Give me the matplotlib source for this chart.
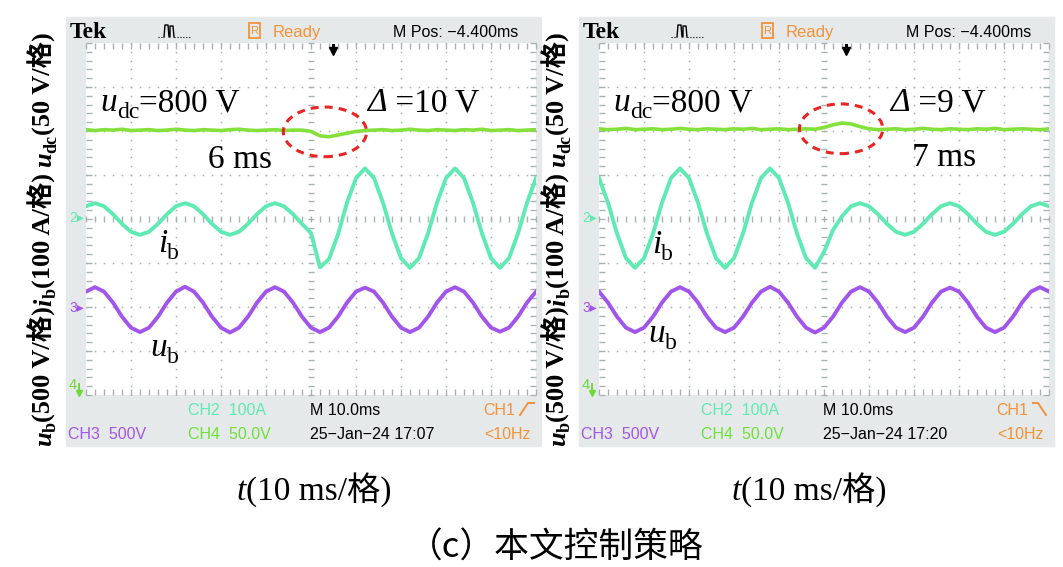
import numpy as np
import matplotlib.pyplot as plt
import matplotlib.markers as mk
from matplotlib.patches import Rectangle, Ellipse
from matplotlib.lines import Line2D

# sample times (ms, 10 ms per division, screen spans -50..50)
t_ms = np.arange(-50, 51, 2)

# traces in divisions (8 div vertical, centre = 0)
udc_left = [2.03, 2.01, 2.03, 2.02, 2.04, 2.01, 2.02, 2.03, 2.01, 2.02,
            2.04, 2.02, 2.01, 2.03, 2.02, 2.01, 2.03, 2.04, 2.02, 2.01,
            2.02, 2.03, 2.01, 2.02, 2.02, 1.99, 1.89, 1.87, 1.91, 1.95,
            1.99, 2.01, 2.02, 2.03, 2.01, 2.02, 2.04, 2.02, 2.01, 2.03,
            2.02, 2.01, 2.03, 2.02, 2.04, 2.01, 2.02, 2.03, 2.01, 2.02, 2.03]
ib_left = [0.29, 0.36, 0.29, 0.11, -0.11, -0.29, -0.36, -0.29, -0.11, 0.11,
           0.29, 0.36, 0.29, 0.11, -0.11, -0.29, -0.36, -0.29, -0.11, 0.11,
           0.29, 0.36, 0.29, 0.11, -0.11, -0.32, -1.10, -0.91, -0.35, 0.37,
           0.93, 1.15, 0.93, 0.37, -0.33, -0.89, -1.11, -0.89, -0.33, 0.37,
           0.93, 1.15, 0.93, 0.37, -0.33, -0.89, -1.11, -0.89, -0.33, 0.37, 0.93]
ub_left = [-1.65, -1.55, -1.65, -1.90, -2.22, -2.47, -2.57, -2.47, -2.22, -1.90,
           -1.65, -1.54, -1.65, -1.90, -2.22, -2.47, -2.58, -2.47, -2.22, -1.90,
           -1.65, -1.55, -1.65, -1.90, -2.22, -2.47, -2.57, -2.47, -2.22, -1.90,
           -1.65, -1.56, -1.65, -1.90, -2.22, -2.47, -2.57, -2.47, -2.22, -1.90,
           -1.65, -1.55, -1.65, -1.90, -2.22, -2.47, -2.56, -2.47, -2.22, -1.90, -1.65]

udc_right = [2.05, 2.03, 2.04, 2.06, 2.03, 2.04, 2.05, 2.03, 2.04, 2.06,
             2.04, 2.03, 2.05, 2.04, 2.03, 2.05, 2.04, 2.06, 2.03, 2.04,
             2.05, 2.03, 2.04, 2.05, 2.04, 2.08, 2.14, 2.18, 2.16, 2.10,
             2.05, 2.03, 2.04, 2.05, 2.03, 2.04, 2.06, 2.04, 2.03, 2.05,
             2.04, 2.03, 2.05, 2.04, 2.06, 2.03, 2.04, 2.05, 2.04, 2.03, 2.05]
ib_right = [0.93, 0.37, -0.33, -0.89, -1.11, -0.89, -0.33, 0.37, 0.93, 1.15,
            0.93, 0.37, -0.33, -0.89, -1.11, -0.89, -0.33, 0.37, 0.93, 1.15,
            0.93, 0.37, -0.33, -0.89, -1.11, -0.75, -0.25, 0.06, 0.29, 0.36,
            0.29, 0.11, -0.11, -0.29, -0.36, -0.29, -0.11, 0.11, 0.29, 0.36,
            0.29, 0.11, -0.11, -0.29, -0.36, -0.29, -0.11, 0.11, 0.29, 0.36, 0.29]
ub_right = [-1.65, -1.90, -2.22, -2.47, -2.57, -2.47, -2.22, -1.90, -1.65, -1.55,
            -1.65, -1.90, -2.22, -2.47, -2.57, -2.47, -2.22, -1.90, -1.65, -1.54,
            -1.65, -1.90, -2.22, -2.47, -2.58, -2.47, -2.22, -1.90, -1.65, -1.55,
            -1.65, -1.90, -2.22, -2.47, -2.57, -2.47, -2.22, -1.90, -1.65, -1.56,
            -1.65, -1.90, -2.22, -2.47, -2.57, -2.47, -2.22, -1.90, -1.65, -1.55, -1.65]

delta_text = [" =10 V", " =9 V"]
time_text = ["6 ms", "7 ms"]
clock_text = ["25\u2212Jan\u221224 17:07", "25\u2212Jan\u221224 17:20"]
caption = "（c）本文控制策略"

W, H = 1063, 567
C_UDC = '#84e03a'
C_IB = '#5feab4'
C_UB = '#a255ea'
C_OR = '#f39239'
C_GRID = '#a9b2b2'
SERIF = ['Liberation Serif', 'Noto Sans CJK SC']
SANS = ['Liberation Sans', 'DejaVu Sans']

fig = plt.figure(figsize=(W / 100, H / 100), dpi=100)
fig.patch.set_facecolor('white')
renderer = fig.canvas.get_renderer()


def ftext(x, y, s, **kw):
    return fig.text(x / W, 1 - y / H, s, **kw)


def fline(xs, ys, **kw):
    fig.add_artist(Line2D([x / W for x in xs], [1 - y / H for y in ys],
                          transform=fig.transFigure, **kw))


def rich(x0, y0, pieces, rot=False, center=False):
    # pieces: (text, size, italic, dy_px, gap_px, bold)
    objs, widths = [], []
    for s, size, it, dy, gap, bold in pieces:
        t = fig.text(0, 0, s, fontsize=size, family=SERIF, va='baseline', ha='left',
                     style='italic' if it else 'normal',
                     fontweight='bold' if bold else 'normal', zorder=5)
        widths.append(t.get_window_extent(renderer).width + gap)
        objs.append((t, dy))
    pos = -sum(widths) / 2 if center else 0
    for (t, dy), w in zip(objs, widths):
        if rot:
            t.set_position(((x0 + dy) / W, 1 - (y0 - pos) / H))
            t.set_rotation(90)
            t.set_rotation_mode('anchor')
        else:
            t.set_position(((x0 + pos) / W, 1 - (y0 + dy) / H))
        pos += w


def graticule(ax):
    ys = np.arange(-4, 4.01, 0.2)
    xs = np.arange(-50, 50.1, 2)
    for xv in range(-40, 41, 10):
        if xv != 0:
            ax.plot([xv] * len(ys), ys, ls='none', marker='s', ms=1.1,
                    color=C_GRID, mew=0)
    for yv in range(-3, 4):
        if yv != 0:
            ax.plot(xs, [yv] * len(xs), ls='none', marker='s', ms=1.1,
                    color=C_GRID, mew=0)
    kw = dict(ls='none', color=C_GRID, ms=4, mew=1.0, clip_on=False)
    ax.plot(xs, [0] * len(xs), marker='|', **kw)
    ax.plot([0] * len(ys), ys, marker='_', **kw)
    ax.plot(xs, [4] * len(xs), marker=mk.TICKDOWN, **kw)
    ax.plot(xs, [-4] * len(xs), marker=mk.TICKUP, **kw)
    ax.plot([-50] * len(ys), ys, marker=mk.TICKRIGHT, **kw)
    ax.plot([50] * len(ys), ys, marker=mk.TICKLEFT, **kw)


def panel(i, ox, udc, ib, ub, ell_c, lp):
    # scope frame
    fig.add_artist(Rectangle(((66 + ox) / W, 1 - 446 / H), 475 / W, 429 / H,
                             transform=fig.transFigure, color='#e5e9e9', zorder=0))
    ax = fig.add_axes([(86 + ox) / W, 1 - 395 / H, 450 / W, 352 / H])
    ax.set_xlim(-50, 50)
    ax.set_ylim(-4, 4)
    ax.set_facecolor('white')
    for s in ax.spines.values():
        s.set_visible(False)
    ax.set_xticks([])
    ax.set_yticks([])
    graticule(ax)

    ax.plot(t_ms, udc, color=C_UDC, lw=2.6, solid_joinstyle='round', zorder=3)
    ax.plot(t_ms, ib, color=C_IB, lw=2.8, solid_joinstyle='round', zorder=3)
    ax.plot(t_ms, ub, color=C_UB, lw=2.8, solid_joinstyle='round', zorder=3)
    ax.add_patch(Ellipse(ell_c, 18.5, 1.13, fill=False, edgecolor='#ea2424',
                         lw=2.2, ls=(0, (2.6, 2.0)), zorder=4))

    # header
    ftext(70 + ox, 38, "Tek", fontsize=17, fontweight='bold',
          family='Liberation Serif', va='baseline')
    fline([158 + ox, 164 + ox], [37, 37], color='k', lw=0.8, ls=':')
    fline([164 + ox, 165 + ox, 168 + ox, 169 + ox, 170 + ox, 170 + ox, 173 + ox, 174 + ox],
          [37, 25, 25, 37, 37, 26, 26, 37], color='k', lw=1.0)
    fline([174 + ox, 190 + ox], [37, 37], color='k', lw=0.8, ls=':')
    fig.add_artist(Rectangle(((249 + ox) / W, 1 - 38 / H), 11 / W, 15 / H, fill=False,
                             edgecolor=C_OR, lw=1.3, transform=fig.transFigure))
    ftext(254.5 + ox, 31, "R", fontsize=8, color=C_OR, family=SANS,
          ha='center', va='center')
    ftext(273 + ox, 37, "Ready", fontsize=12, color=C_OR, family=SANS, va='baseline')
    ftext(393 + ox, 37, "M Pos: \u22124.400ms", fontsize=11.5, color='k',
          family=SANS, va='baseline')
    fline([333 + ox, 333 + ox], [45, 50], color='k', lw=2.2)
    fig.add_artist(Line2D([(333 + ox) / W], [1 - 51 / H], marker='v', ms=6,
                          color='k', transform=fig.transFigure))

    # channel markers
    ftext(69 + ox, 218, "2\u25B8", fontsize=10, color=C_IB, family=SANS, va='center')
    ftext(69 + ox, 308, "3\u25B8", fontsize=10, color=C_UB, family=SANS, va='center')
    ftext(69 + ox, 385, "4", fontsize=10.5, color='#6fd93a', family=SANS, va='center')
    fline([79 + ox, 79 + ox], [384, 393], color='#6fd93a', lw=1.4)
    fig.add_artist(Line2D([(79 + ox) / W], [1 - 393 / H], marker='v', ms=4,
                          color='#6fd93a', transform=fig.transFigure))

    # footer
    sk = dict(fontsize=11.5, family=SANS, va='baseline')
    ftext(188 + ox, 415, "CH2  100A", color=C_IB, **sk)
    ftext(310 + ox, 415, "M 10.0ms", color='k', **sk)
    ftext(483 + ox, 415, "CH1", color=C_OR, **sk)
    if i == 0:
        fline([520 + ox, 528 + ox, 534 + ox], [415, 403, 403], color=C_OR, lw=1.4)
    else:
        fline([520 + ox, 525 + ox, 533 + ox], [403, 403, 415], color=C_OR, lw=1.4)
    ftext(68 + ox, 439, "CH3  500V", color=C_UB, **sk)
    ftext(188 + ox, 439, "CH4  50.0V", color='#6fe03a', **sk)
    ftext(310 + ox, 439, clock_text[i], color='k', **sk)
    ftext(484 + ox, 439, "<10Hz", color=C_OR, **sk)

    # annotations
    rich(100 + ox, 111, [("u", 24, True, 0, 0, False), ("dc", 17, False, 7, 0, False),
                         ("=800 V", 24, False, 0, 0, False)])
    rich(lp[0] + ox, 111, [("\u0394", 24, True, 0, 0, False),
                           (delta_text[i], 24, False, 0, 0, False)])
    rich(lp[1] + ox, lp[2], [(time_text[i], 24, False, 0, 0, False)])
    rich(lp[3] + ox, lp[4], [("i", 24, True, 0, 0, False), ("b", 17, False, 7, 0, False)])
    rich(lp[5] + ox, lp[6], [("u", 24, True, 0, 0, False), ("b", 17, False, 7, 0, False)])

    # axis texts
    rich(lp[7] + ox, 239, [("u", 19, True, 0, 0, True), ("b", 13, False, 5, 0, True),
                           ("(500 V/格)", 19, False, 0, 0, True),
                           ("i", 19, True, 0, 0, True), ("b", 13, False, 5, 0, True),
                           ("(100 A/格)", 19, False, 0, 6, True),
                           ("u", 19, True, 0, 0, True), ("dc", 13, False, 5, 0, True),
                           ("(50 V/格)", 19, False, 0, 0, True)], rot=True, center=True)
    rich(lp[8] + ox, 500, [("t", 24, True, 0, 0, False),
                           ("(10 ms/格)", 24, False, 0, 0, False)], center=True)


panel(0, 0, udc_left, ib_left, ub_left, (3.1, 1.98),
      (367, 208, 168, 158, 252, 150, 356, 51, 314))
panel(1, 513, udc_right, ib_right, ub_right, (3.8, 2.05),
      (377, 399, 166, 139, 253, 135, 342, 52, 296))

ftext(556, 548, caption, fontsize=25, family=['Noto Sans CJK SC', 'DejaVu Sans'],
      ha='center', va='center')

fig.savefig('out.png', dpi=100)
